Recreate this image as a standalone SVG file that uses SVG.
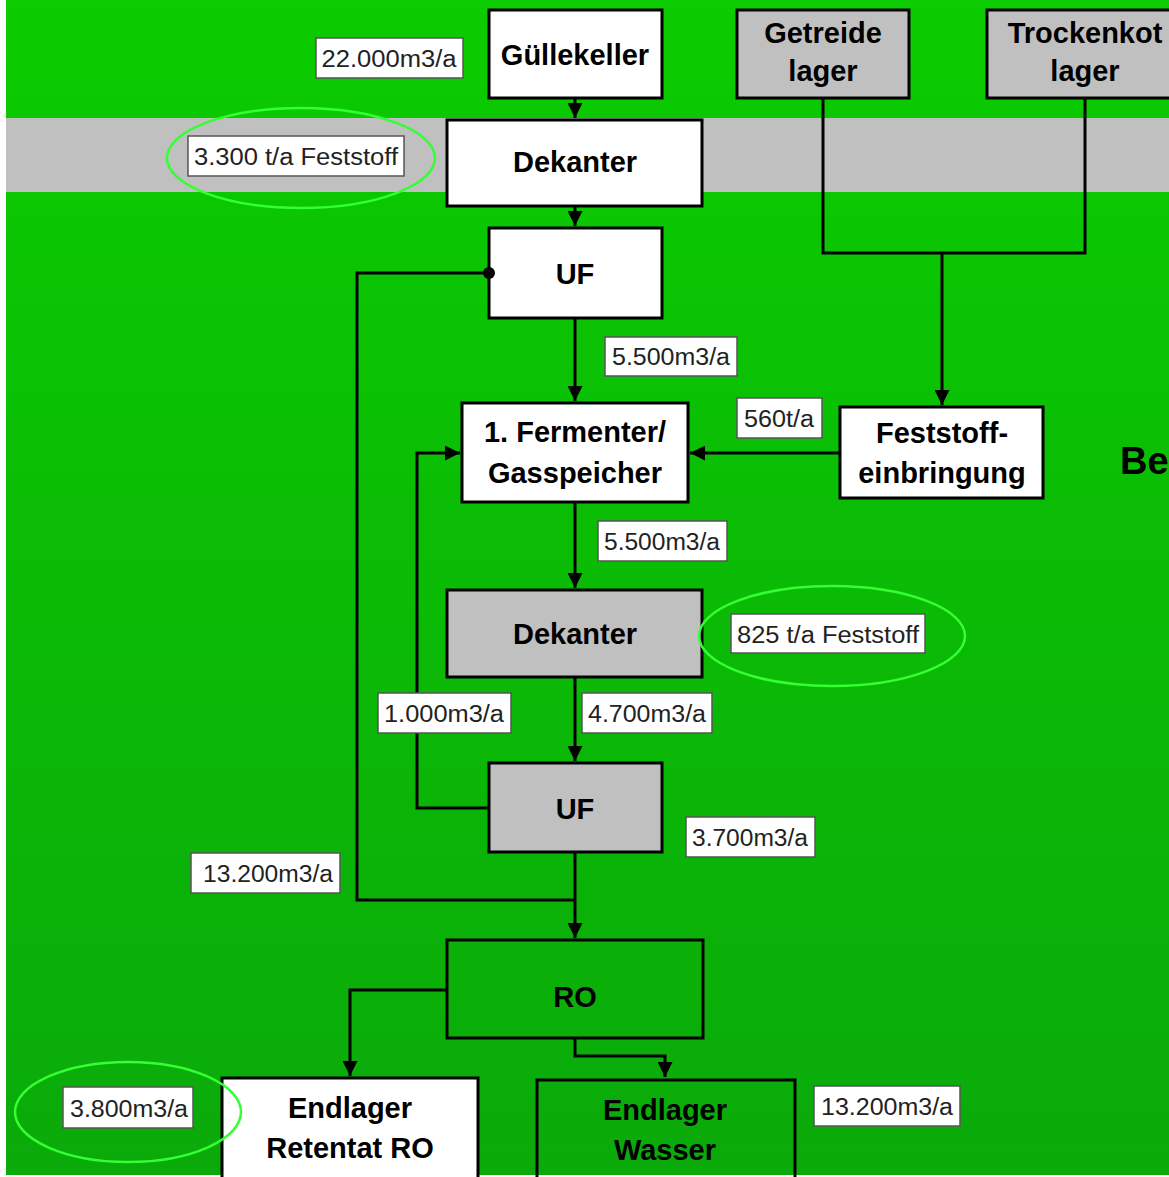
<svg xmlns="http://www.w3.org/2000/svg" width="1169" height="1177" viewBox="0 0 1169 1177">
<style>
.node{stroke:#000;stroke-width:3}
.white{fill:#fff}
.gray{fill:#c0c0c0}
.greenbox{fill:none}
.nt{font-family:"Liberation Sans",Arial,sans-serif;font-weight:bold;font-size:29px;fill:#000;text-anchor:middle}
.lab{fill:#fff;stroke:#555;stroke-width:1.5}
.lt{font-family:"Liberation Sans",Arial,sans-serif;font-size:23px;fill:#222;text-anchor:middle}
.ell{fill:none;stroke:#33ff33;stroke-width:2.5}
.con{fill:none;stroke:#000;stroke-width:3}
</style>
<defs>
<linearGradient id="bg" x1="0" y1="0" x2="0" y2="1">
<stop offset="0" stop-color="#0bcc00"/>
<stop offset="1" stop-color="#0aaa0a"/>
</linearGradient>
<marker id="arr" viewBox="0 0 10 10" refX="10" refY="5" markerWidth="5" markerHeight="5" orient="auto" markerUnits="strokeWidth">
<path d="M0,0 L10,5 L0,10 z" fill="#000"/>
</marker>
</defs>
<rect x="0" y="0" width="1169" height="1177" fill="#fff"/>
<rect x="6" y="0" width="1163" height="1175" fill="url(#bg)"/>
<rect x="6" y="118" width="1163" height="74" fill="#c0c0c0"/>

<g id="guellekeller"><rect class="node white" x="489" y="10" width="173" height="88"/><text class="nt" x="575" y="65">Güllekeller</text></g>
<g id="dekanter1"><rect class="node white" x="447" y="120" width="255" height="86"/><text class="nt" x="575" y="172">Dekanter</text></g>
<g id="getreidelager"><rect class="node gray" x="737" y="10" width="172" height="88"/><text class="nt" x="823" y="43">Getreide</text><text class="nt" x="823" y="81">lager</text></g>
<g id="trockenkotlager"><rect class="node gray" x="987" y="10" width="190" height="88"/><text class="nt" x="1085" y="43">Trockenkot</text><text class="nt" x="1085" y="81">lager</text></g>
<g id="uf1"><rect class="node white" x="489" y="228" width="173" height="90"/><text class="nt" x="575" y="284">UF</text></g>
<g id="fermenter"><rect class="node white" x="462" y="403" width="226" height="99"/><text class="nt" x="575" y="442">1. Fermenter/</text><text class="nt" x="575" y="483">Gasspeicher</text></g>
<g id="feststoffeinbringung"><rect class="node white" x="840" y="407" width="203" height="91"/><text class="nt" x="942" y="443">Feststoff-</text><text class="nt" x="942" y="483">einbringung</text></g>
<g id="dekanter2"><rect class="node gray" x="447" y="590" width="255" height="87"/><text class="nt" x="575" y="644">Dekanter</text></g>
<g id="uf2"><rect class="node gray" x="489" y="763" width="173" height="89"/><text class="nt" x="575" y="819">UF</text></g>
<g id="ro"><rect class="node greenbox" x="447" y="940" width="256" height="98"/><text class="nt" x="575" y="1007">RO</text></g>
<g id="endlager-retentat"><rect class="node white" x="222" y="1078" width="256" height="105"/><text class="nt" x="350" y="1118">Endlager</text><text class="nt" x="350" y="1158">Retentat RO</text></g>
<g id="endlager-wasser"><rect class="node greenbox" x="537" y="1080" width="258" height="105"/><text class="nt" x="665" y="1120">Endlager</text><text class="nt" x="665" y="1160">Wasser</text></g>

<g id="connectors">
<line class="con" x1="575" y1="98" x2="575" y2="118" marker-end="url(#arr)"/>
<line class="con" x1="575" y1="206" x2="575" y2="226" marker-end="url(#arr)"/>
<line class="con" x1="575" y1="318" x2="575" y2="401" marker-end="url(#arr)"/>
<polyline class="con" points="823,98 823,253 1085,253 1085,98"/>
<line class="con" x1="942" y1="253" x2="942" y2="405" marker-end="url(#arr)"/>
<line class="con" x1="840" y1="453" x2="690" y2="453" marker-end="url(#arr)"/>
<line class="con" x1="575" y1="502" x2="575" y2="588" marker-end="url(#arr)"/>
<line class="con" x1="575" y1="677" x2="575" y2="761" marker-end="url(#arr)"/>
<polyline class="con" points="489,808 417,808 417,453 460,453" marker-end="url(#arr)"/>
<polyline class="con" points="489,273 357,273 357,900 575,900"/>
<circle cx="489" cy="273" r="6" fill="#000"/>
<line class="con" x1="575" y1="852" x2="575" y2="938" marker-end="url(#arr)"/>
<polyline class="con" points="447,990 350,990 350,1076" marker-end="url(#arr)"/>
<polyline class="con" points="575,1038 575,1056 665,1056 665,1077" marker-end="url(#arr)"/>
</g>

<text x="1120" y="474" font-family="Liberation Sans,Arial,sans-serif" font-weight="bold" font-size="38" fill="#000">Be</text>

<g id="labels">
<rect class="lab" x="316" y="38" width="147" height="40"/><text class="lt" x="389" y="67" textLength="135" lengthAdjust="spacingAndGlyphs">22.000m3/a</text>
<rect class="lab" x="188" y="136" width="216" height="40"/><text class="lt" x="296" y="165" textLength="204" lengthAdjust="spacingAndGlyphs">3.300 t/a Feststoff</text>
<ellipse class="ell" cx="301" cy="158" rx="134" ry="50"/>
<rect class="lab" x="605" y="337" width="132" height="39"/><text class="lt" x="671" y="365" textLength="118" lengthAdjust="spacingAndGlyphs">5.500m3/a</text>
<rect class="lab" x="737" y="398" width="85" height="40"/><text class="lt" x="779" y="427" textLength="70" lengthAdjust="spacingAndGlyphs">560t/a</text>
<rect class="lab" x="598" y="521" width="129" height="40"/><text class="lt" x="662" y="550" textLength="116" lengthAdjust="spacingAndGlyphs">5.500m3/a</text>
<rect class="lab" x="731" y="614" width="194" height="39"/><text class="lt" x="828" y="643" textLength="182" lengthAdjust="spacingAndGlyphs">825 t/a Feststoff</text>
<ellipse class="ell" cx="832" cy="636" rx="133" ry="50"/>
<rect class="lab" x="378" y="693" width="133" height="40"/><text class="lt" x="444" y="722" textLength="120" lengthAdjust="spacingAndGlyphs">1.000m3/a</text>
<rect class="lab" x="582" y="693" width="130" height="40"/><text class="lt" x="647" y="722" textLength="118" lengthAdjust="spacingAndGlyphs">4.700m3/a</text>
<rect class="lab" x="686" y="817" width="129" height="40"/><text class="lt" x="750" y="846" textLength="116" lengthAdjust="spacingAndGlyphs">3.700m3/a</text>
<rect class="lab" x="191" y="853" width="149" height="40"/><text class="lt" x="268" y="882" textLength="130" lengthAdjust="spacingAndGlyphs">13.200m3/a</text>
<rect class="lab" x="63" y="1087" width="130" height="41"/><text class="lt" x="129" y="1117" textLength="118" lengthAdjust="spacingAndGlyphs">3.800m3/a</text>
<ellipse class="ell" cx="128" cy="1112" rx="113" ry="50"/>
<rect class="lab" x="814" y="1086" width="146" height="40"/><text class="lt" x="887" y="1115" textLength="132" lengthAdjust="spacingAndGlyphs">13.200m3/a</text>
</g>
</svg>
